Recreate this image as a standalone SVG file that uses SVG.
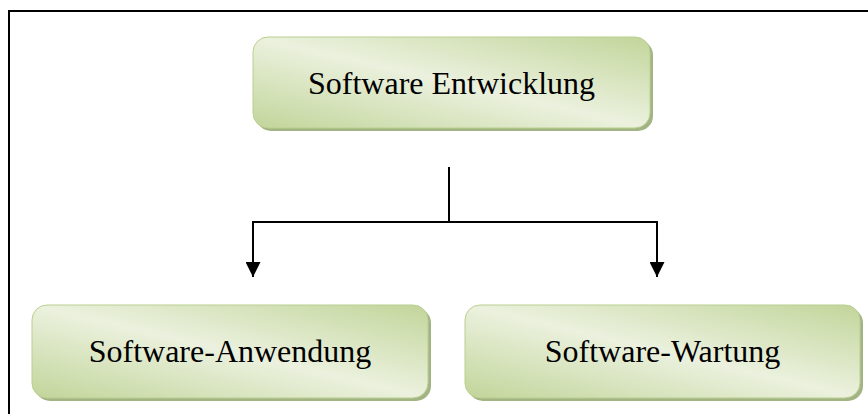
<svg xmlns="http://www.w3.org/2000/svg" width="868" height="414" viewBox="0 0 868 414">
  <style>
    .frame { fill: none; stroke: #000; stroke-width: 2; }
    .box { fill: url(#moss); stroke: #b9cf8f; stroke-width: 1; }
    .shadow { fill: #a3b484; }
    .label { font-family: "Liberation Serif", "Times New Roman", serif; font-size: 32px; fill: #000; text-anchor: middle; }
    .wire { fill: none; stroke: #000; stroke-width: 2; }
  </style>
  <defs>
    <linearGradient id="moss" x1="1" y1="0" x2="0" y2="1">
      <stop offset="0" stop-color="#c2d59a"/>
      <stop offset="0.5" stop-color="#ebf1de"/>
      <stop offset="1" stop-color="#c2d59a"/>
    </linearGradient>
    <marker id="arrow" viewBox="0 0 10 10" refX="10" refY="5" markerWidth="15" markerHeight="15" markerUnits="userSpaceOnUse" orient="auto">
      <path d="M0,0 L10,5 L0,10 Z" fill="#000"/>
    </marker>
  </defs>

  <!-- outer frame: top and left edges -->
  <path class="frame" d="M9,414 V11 H868"/>

  <g id="node-entwicklung">
    <rect class="shadow" x="256" y="40" width="397" height="91" rx="15"/>
    <rect class="box" x="253" y="37" width="397" height="91" rx="15"/>
    <text class="label" x="451.5" y="94">Software Entwicklung</text>
  </g>

  <g id="node-anwendung">
    <rect class="shadow" x="35" y="308" width="396" height="93" rx="15"/>
    <rect class="box" x="32" y="305" width="396" height="93" rx="15"/>
    <text class="label" x="230" y="362">Software-Anwendung</text>
  </g>

  <g id="node-wartung">
    <rect class="shadow" x="468" y="308" width="395" height="93" rx="15"/>
    <rect class="box" x="465" y="305" width="395" height="93" rx="15"/>
    <text class="label" x="662.5" y="362">Software-Wartung</text>
  </g>

  <g id="connectors">
    <path class="wire" d="M449,167 V222"/>
    <path class="wire" d="M253,222 H657"/>
    <path class="wire" d="M253,221 V277" marker-end="url(#arrow)"/>
    <path class="wire" d="M657,221 V277" marker-end="url(#arrow)"/>
  </g>
</svg>
